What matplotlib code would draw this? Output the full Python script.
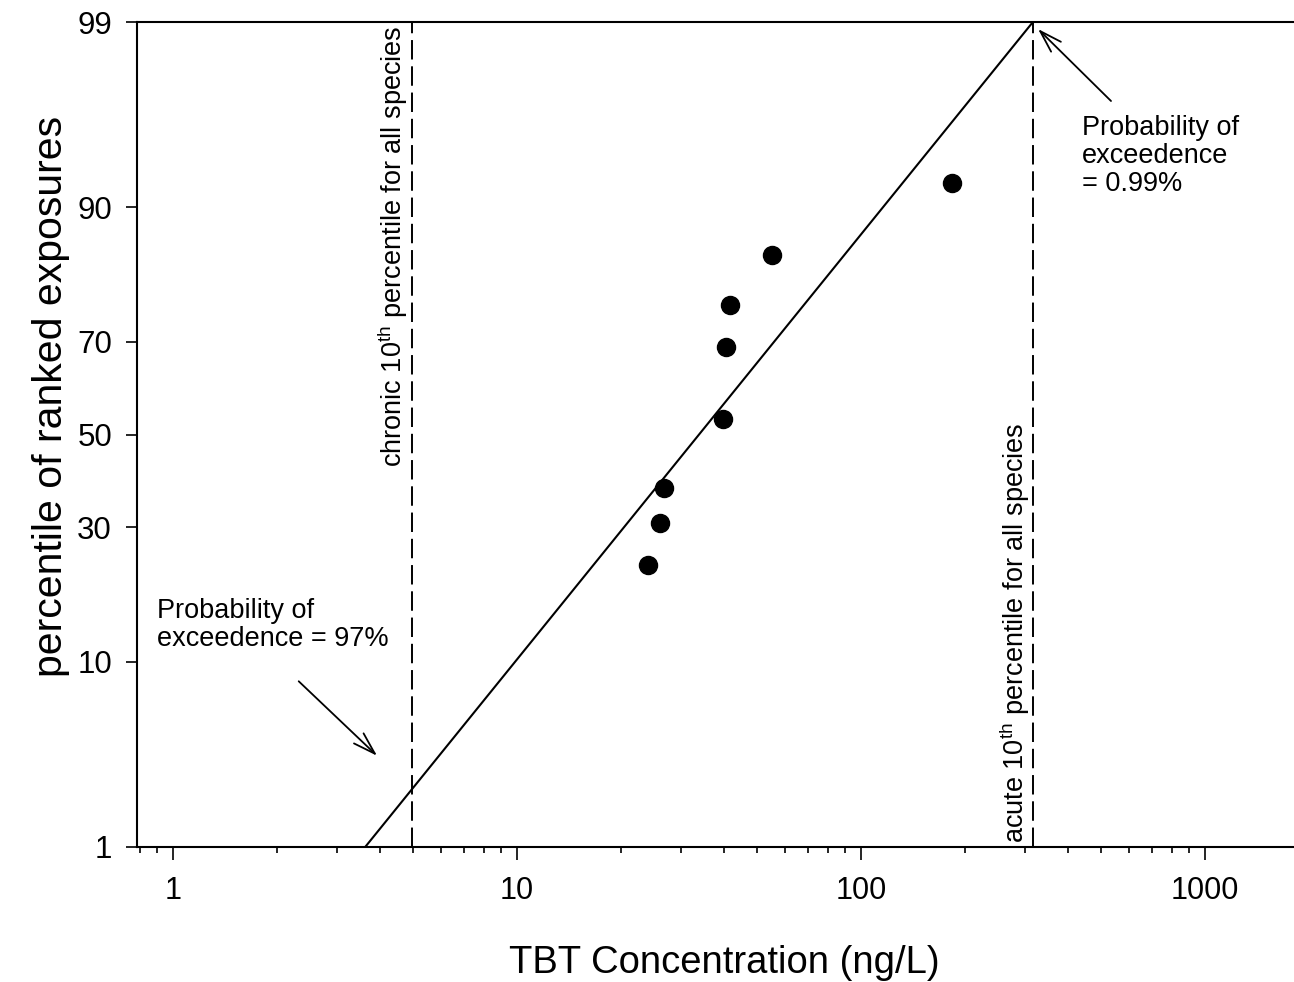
import numpy as np
import matplotlib
matplotlib.use('Agg')
import matplotlib.pyplot as plt
from matplotlib.ticker import FixedLocator, FixedFormatter, LogLocator, NullFormatter, NullLocator
from statistics import NormalDist

plt.rcParams['font.family'] = ['Liberation Sans', 'DejaVu Sans']
plt.rcParams['mathtext.fontset'] = 'custom'
plt.rcParams['mathtext.rm'] = 'Liberation Sans'
plt.rcParams['mathtext.it'] = 'Liberation Sans:italic'
plt.rcParams['mathtext.bf'] = 'Liberation Sans:bold'

# ---------------- data ----------------
tbt_conc = [24.1, 26.0, 26.8, 39.6, 40.5, 41.6, 55.0, 183.5]      # ng/L
percentile = [23.1, 30.8, 38.2, 53.5, 68.9, 76.7, 84.4, 92.2]    # %
fit_conc = [3.62, 316.0]
fit_pct = [1.0, 99.0]
chronic_10th = 4.95
acute_10th = 316.0
y_ticks = [1, 10, 30, 50, 70, 90, 99]
y_ticklabels = ['1', '10', '30', '50', '70', '90', '99']
x_ticks = [1, 10, 100, 1000]
x_ticklabels = ['1', '10', '100', '1000']

# ---------------- probit scale ----------------
_nd = NormalDist()

def _fwd(p):
    p = np.asarray(p, dtype=float)
    flat = np.atleast_1d(p).ravel()
    out = np.full(flat.shape, np.nan)
    m = np.isfinite(flat)
    pc = np.clip(flat[m], 1e-9, 100 - 1e-9)
    out[m] = [_nd.inv_cdf(v / 100.0) for v in pc]
    return out.reshape(p.shape)

def _inv(z):
    z = np.asarray(z, dtype=float)
    flat = np.atleast_1d(z).ravel()
    out = np.full(flat.shape, np.nan)
    m = np.isfinite(flat)
    out[m] = [_nd.cdf(v) * 100.0 for v in flat[m]]
    return out.reshape(z.shape)

fig = plt.figure(figsize=(12.94, 9.82), dpi=100)
ax = fig.add_axes([137 / 1294, 135 / 982, 1157 / 1294, 825 / 982])

ax.set_xscale('log')
ax.set_yscale('function', functions=(_fwd, _inv))
ax.set_xlim(0.786, 1814)
ax.set_ylim(1, 99)

# fitted line
ax.plot(fit_conc, fit_pct, color='black', lw=1.5)
# data points
ax.plot(tbt_conc, percentile, 'o', color='black', markersize=13, zorder=3)
# reference lines
ax.axvline(chronic_10th, color='black', lw=1.4, linestyle=(0, (10, 3.5)))
ax.axvline(acute_10th, color='black', lw=1.4, linestyle=(0, (10, 3.5)))

# ticks
ax.xaxis.set_major_locator(FixedLocator(x_ticks))
ax.xaxis.set_major_formatter(FixedFormatter(x_ticklabels))
ax.xaxis.set_minor_locator(LogLocator(base=10, subs=np.arange(2, 10)))
ax.xaxis.set_minor_formatter(NullFormatter())
ax.yaxis.set_major_locator(FixedLocator(y_ticks))
ax.yaxis.set_major_formatter(FixedFormatter(y_ticklabels))
ax.yaxis.set_minor_locator(NullLocator())

ax.tick_params(axis='x', which='major', direction='out', length=9, width=1.2,
               labelsize=22, pad=12)
ax.tick_params(axis='x', which='minor', direction='out', length=4.5, width=1.2)
ax.tick_params(axis='y', which='major', direction='out', length=8, width=1.2,
               labelsize=22.5, pad=10)
ax.tick_params(top=False, right=False)

for s in ['left', 'bottom', 'top']:
    ax.spines[s].set_linewidth(1.5)
ax.spines['right'].set_visible(False)

# axis labels
ax.set_xlabel('TBT Concentration (ng/L)', fontsize=27.5)
ax.xaxis.label.set_verticalalignment('baseline')
ax.xaxis.set_label_coords(0.5073, -0.1527)
ax.set_ylabel('percentile of ranked exposures', fontsize=29.5)
ax.yaxis.set_label_coords(-0.058, 0.5467)

# rotated reference-line labels
ax.annotate(r'chronic 10$^{\mathrm{th}}$ percentile for all species',
            xy=(chronic_10th, 99), xycoords='data', xytext=(-2, -3),
            textcoords='offset pixels', rotation=90, ha='right', va='top',
            fontsize=19.5)
ax.annotate(r'acute 10$^{\mathrm{th}}$ percentile for all species',
            xy=(acute_10th, 1), xycoords='data', xytext=(-1, 4),
            textcoords='offset pixels', rotation=90, ha='right', va='bottom',
            fontsize=19.5)

# probability of exceedence annotations
ax.text(0.898, 17.8, 'Probability of\nexceedence = 97%', fontsize=19.5,
        ha='left', va='top', linespacing=1.1)
ax.annotate('', xy=(3.92, 3.5), xytext=(2.32, 8.2),
            arrowprops=dict(arrowstyle='->,head_length=0.8,head_width=0.25',
                            lw=1.3, color='black', mutation_scale=20,
                            shrinkA=0, shrinkB=0))
ax.text(439, 96.42, 'Probability of\nexceedence\n= 0.99%', fontsize=19.5,
        ha='left', va='top', linespacing=1.1)
ax.annotate('', xy=(327, 98.89), xytext=(533, 97.0),
            arrowprops=dict(arrowstyle='->,head_length=0.8,head_width=0.25',
                            lw=1.3, color='black', mutation_scale=20,
                            shrinkA=0, shrinkB=0))

fig.savefig('out.png', dpi=100)
